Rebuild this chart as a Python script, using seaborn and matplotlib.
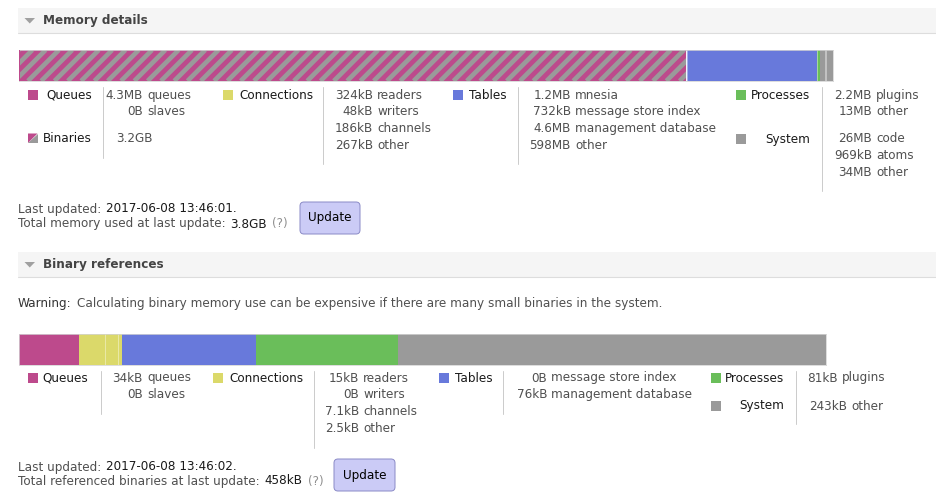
import matplotlib
matplotlib.use("Agg")
import matplotlib.pyplot as plt
from matplotlib.patches import Rectangle, Polygon, FancyBboxPatch
from matplotlib.collections import LineCollection
import pandas as pd
import seaborn as sns

# Memory breakdown as shown by the management UI (sizes in kB)
bar_groups = ["Queues", "Binaries", "Connections", "Tables", "Processes", "System"]
group_colours = ["#bd4a8c", "#bd4a8c", "#dbd96a", "#6879db", "#6abe5a", "#9a9a9a"]

mem_queues = [4300, 0]                 # queues, slaves
mem_binaries = [3080000]               # bar is drawn a bit shorter than the 3.2GB label
mem_connections = [324, 48, 186, 267]  # readers, writers, channels, other
mem_tables = [1200, 732, 4600, 598000] # mnesia, msg store index, mgmt db, other
mem_processes = [2200, 13000]          # plugins, other
mem_system = [26000, 969, 34000]       # code, atoms, other

ref_queues = [34, 0]
ref_connections = [15, 0, 7.1, 2.5]
ref_tables = [0, 76]
ref_processes = [81, 0]
ref_system = [0, 0, 243]

# text next to the colour keys
mem_queue_labels = [("4.3MB", "queues"), ("0B", "slaves")]
mem_binary_label = "3.2GB"
mem_conn_labels = [("324kB", "readers"), ("48kB", "writers"),
                   ("186kB", "channels"), ("267kB", "other")]
mem_table_labels = [("1.2MB", "mnesia"), ("732kB", "message store index"),
                    ("4.6MB", "management database"), ("598MB", "other")]
mem_proc_labels = [("2.2MB", "plugins"), ("13MB", "other")]
mem_system_labels = [("26MB", "code"), ("969kB", "atoms"), ("34MB", "other")]

ref_queue_labels = [("34kB", "queues"), ("0B", "slaves")]
ref_conn_labels = [("15kB", "readers"), ("0B", "writers"),
                   ("7.1kB", "channels"), ("2.5kB", "other")]
ref_table_labels = [("0B", "message store index"), ("76kB", "management database")]
ref_proc_labels = [("81kB", "plugins")]
ref_system_labels = [("243kB", "other")]

mem_updated = "2017-06-08 13:46:01."
mem_total = "3.8GB"
ref_updated = "2017-06-08 13:46:02."
ref_total = "458kB"

colour = dict(zip(bar_groups, group_colours))

sns.set_style("white")
plt.rcParams["font.family"] = ["DejaVu Sans"]

FS = 10.8
DARK, GREY, FAINT = "#1a1a1a", "#505050", "#909090"

fig = plt.figure(figsize=(936 / 80, 499 / 80), dpi=80)
bg = fig.add_axes([0, 0, 1, 1])
bg.set_xlim(0, 936)
bg.set_ylim(499, 0)
bg.axis("off")
renderer = fig.canvas.get_renderer()


def text(x, y, s, ha="left", color=GREY, **kw):
    return bg.text(x, y, s, ha=ha, va="center", color=color, fontsize=FS, **kw)


def run(x, y, pieces):
    # several pieces of text on one line, each in its own colour
    for s, c in pieces:
        t = text(x, y, s, color=c)
        x += t.get_window_extent(renderer).width + 5


def header(y0, title):
    bg.add_patch(Rectangle((18, y0), 918, 25, fc="#f5f5f5", ec="none"))
    bg.plot([18, 936], [y0 + 25, y0 + 25], color="#dddddd", lw=1)
    bg.add_patch(Polygon([(24.5, y0 + 10), (35, y0 + 10), (29.75, y0 + 15.5)],
                         fc="#a0a0a0", ec="none"))
    text(43, y0 + 12.5, title, color="#444444", fontweight="bold")


def key(x, y, group, label, lx, ha="left"):
    bg.add_patch(Rectangle((x, y - 4.75), 9.5, 9.5, fc=colour[group], ec="none"))
    text(lx, y, label, ha=ha, color=DARK)


def values(xr, y, rows):
    for i, (num, word) in enumerate(rows):
        text(xr, y + 16.8 * i, num, ha="right")
        text(xr + 4, y + 16.8 * i, word)


def sep(x, y0, y1):
    bg.plot([x, x], [y0, y1], color="#cccccc", lw=0.9)


def button(x, y, w, h):
    bg.add_patch(FancyBboxPatch((x, y), w, h, boxstyle="round,pad=0,rounding_size=4",
                                fc="#cbcbf6", ec="#8c8cc8", lw=0.9))
    text(x + w / 2, y + h / 2, "Update", ha="center", color="#000000")


def stripes(ax, patch, rect, step=13.3):
    # grey diagonal stripes over the pink binaries bar, clipped to it
    x0, top, w, h = rect
    n = int((w + h) / step) + 2
    segs = [[(x0 - h + step * k, top + h), (x0 + step * k, top)] for k in range(n)]
    lc = LineCollection(segs, colors=colour["System"], linewidths=4.2,
                        transform=bg.transData)
    ax.add_collection(lc, autolim=False)
    lc.set_clip_path(patch)


def stacked_bar(rect, groups):
    ax = fig.add_axes([rect[0] / 936, 1 - (rect[1] + rect[3]) / 499,
                       rect[2] / 936, rect[3] / 499])
    rows = []
    for name, parts in groups:
        for i, kb in enumerate(parts):
            rows.append({"seg": f"{name} {i}", "group": name, "kb": kb})
    df = pd.DataFrame(rows)
    df["end"] = df["kb"].cumsum()
    df["bar"] = ""
    order = df["seg"].tolist()[::-1]
    pal = {s: colour[g] for s, g in zip(df["seg"], df["group"])}
    sns.barplot(data=df, x="end", y="bar", hue="seg", hue_order=order, palette=pal,
                dodge=False, width=1, saturation=1, linewidth=0, errorbar=None,
                legend=False, orient="h", ax=ax)
    ax.set_xlim(0, df["end"].iloc[-1])
    ax.set_ylim(0.5, -0.5)
    # thin lighter lines between the parts of one group
    start = 0
    for name, parts in groups:
        pos = start
        for i, kb in enumerate(parts[:-1]):
            pos += kb
            if kb > 0 and sum(parts[i + 1:]) > 0:
                ax.axvline(pos, color="white", alpha=0.45, lw=0.8)
        start += sum(parts)
    ax.set(xlabel=None, ylabel=None, xticks=[], yticks=[])
    for s in ax.spines.values():
        s.set_color("#d4d4d4")
        s.set_linewidth(0.7)
    # the binaries segment is striped; the queue bar drawn over it covers the start
    for seg, cont in zip(order, ax.containers):
        if seg.startswith("Binaries"):
            stripes(ax, cont[0], rect)
            for later in order[order.index(seg) + 1:]:
                for p in ax.containers[order.index(later)]:
                    p.set_zorder(3)
    return ax


# ---------------- Memory details ----------------
header(8, "Memory details")
stacked_bar((19, 50, 814, 31), [("Queues", mem_queues), ("Binaries", mem_binaries),
                                ("Connections", mem_connections), ("Tables", mem_tables),
                                ("Processes", mem_processes), ("System", mem_system)])

key(28, 95, "Queues", "Queues", 92, ha="right")
sep(102.5, 87, 158)
values(143, 95, mem_queue_labels)
bg.add_patch(Polygon([(28, 133.5), (37.5, 133.5), (28, 143)], fc=colour["Binaries"], ec="none"))
bg.add_patch(Polygon([(37.5, 133.5), (37.5, 143), (28, 143)], fc=colour["System"], ec="none"))
text(92, 138, "Binaries", ha="right", color=DARK)
text(116, 138, mem_binary_label)

key(223, 95, "Connections", "Connections", 239)
sep(322.5, 87, 164)
values(373, 95, mem_conn_labels)

key(453, 95, "Tables", "Tables", 469)
sep(517.5, 87, 164)
values(571, 95, mem_table_labels)

key(736, 95, "Processes", "Processes", 810, ha="right")
key(736, 139, "System", "System", 810, ha="right")
sep(821.5, 87, 191)
values(872, 95, mem_proc_labels)
values(872, 139, mem_system_labels)

run(18, 209, [("Last updated:", GREY), (mem_updated, DARK)])
run(18, 224, [("Total memory used at last update:", GREY), (mem_total, DARK), ("(?)", FAINT)])
button(300, 202, 60, 32)

# ---------------- Binary references ----------------
header(252, "Binary references")
run(18, 304, [("Warning:", "#333333"),
              ("Calculating binary memory use can be expensive if there are many small binaries in the system.", GREY)])
stacked_bar((19, 334, 807, 31), [("Queues", ref_queues), ("Connections", ref_connections),
                                 ("Tables", ref_tables), ("Processes", ref_processes),
                                 ("System", ref_system)])

key(28, 378, "Queues", "Queues", 88, ha="right")
sep(100.5, 371, 414)
values(143, 378, ref_queue_labels)

key(213, 378, "Connections", "Connections", 229)
sep(313.5, 371, 448)
values(359, 378, ref_conn_labels)

key(439, 378, "Tables", "Tables", 455)
sep(502.5, 371, 414)
values(547, 378, ref_table_labels)

key(711, 378, "Processes", "Processes", 784, ha="right")
key(711, 406, "System", "System", 784, ha="right")
sep(795.5, 371, 424)
values(838, 378, ref_proc_labels)
values(847, 406, ref_system_labels)

run(18, 467, [("Last updated:", GREY), (ref_updated, DARK)])
run(18, 481, [("Total referenced binaries at last update:", GREY), (ref_total, DARK), ("(?)", FAINT)])
button(334, 459, 61, 32)

fig.savefig("out.png", dpi=80)
